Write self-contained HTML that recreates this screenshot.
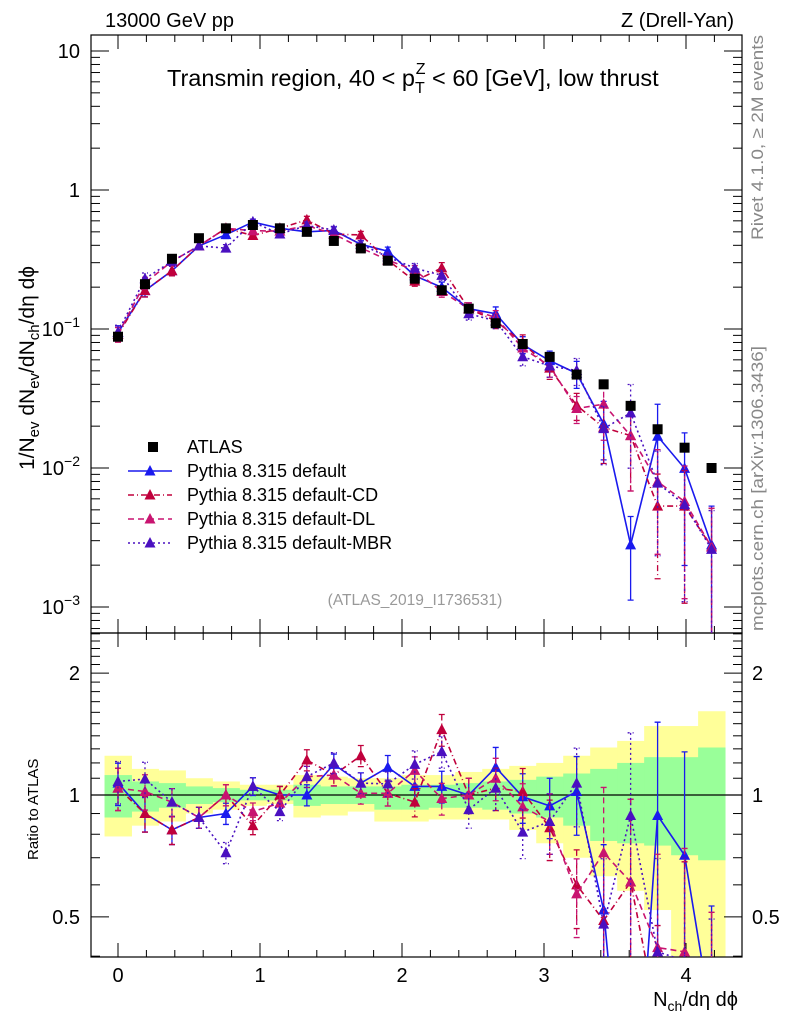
<!DOCTYPE html>
<html><head><meta charset="utf-8"><style>
html,body{margin:0;padding:0;background:#fff;width:786px;height:1024px;overflow:hidden;position:relative;}
svg{display:block;font-family:"Liberation Sans",sans-serif;}
</style></head><body>
<svg id="chart" width="786" height="1024" viewBox="0 0 786 1024" xmlns="http://www.w3.org/2000/svg" style="position:absolute;left:0;top:0"></svg>
<script>
const xCenters = [0,0.19,0.38,0.57,0.76,0.95,1.14,1.33,1.52,1.71,1.90,2.09,2.28,2.47,2.66,2.85,3.04,3.23,3.42,3.61,3.80,3.99,4.18];
const atlasValues = [0.088,0.21,0.32,0.45,0.53,0.56,0.53,0.50,0.43,0.38,0.31,0.23,0.19,0.14,0.11,0.078,0.063,0.047,0.040,0.028,0.019,0.014,0.010];
const ratioDefault = [1.07,0.90,0.82,0.88,0.90,1.05,1.00,1.00,1.19,1.07,1.17,1.05,1.05,1.00,1.17,0.99,0.94,1.02,0.52,0.10,0.89,0.71,0.28];
const ratioCD = [1.04,0.90,0.82,0.88,1.00,0.84,1.00,1.22,1.12,1.25,1.01,0.96,1.45,1.00,1.04,1.02,0.83,0.60,0.49,0.61,0.28,0.38,0.27];
const ratioDL = [1.04,1.02,0.96,0.88,1.00,0.91,0.955,1.11,1.12,1.01,1.01,1.15,0.98,1.00,1.10,0.935,0.86,0.57,0.72,0.61,0.42,0.41,0.27];
const ratioMBR = [1.08,1.095,0.96,0.88,0.72,1.05,0.91,1.11,1.20,1.07,1.065,1.19,1.28,0.92,1.04,0.81,0.86,1.07,0.48,0.89,0.41,0.39,0.26];
const relErrMC = [0.12,0.10,0.08,0.06,0.06,0.05,0.05,0.06,0.06,0.06,0.07,0.08,0.09,0.10,0.12,0.14,0.17,0.22,0.45,0.6,0.7,0.8,0.9];
const bandYellowUp = [1.25,1.16,1.15,1.10,1.08,1.06,1.06,1.12,1.11,1.10,1.10,1.12,1.12,1.14,1.16,1.18,1.20,1.25,1.31,1.36,1.48,1.48,1.61];
const bandYellowDn = [0.79,0.84,0.86,0.90,0.92,0.94,0.95,0.88,0.89,0.91,0.86,0.86,0.87,0.87,0.87,0.82,0.76,0.70,0.63,0.58,0.52,0.40,0.35];
const bandGreenUp = [1.12,1.08,1.07,1.05,1.04,1.03,1.03,1.06,1.05,1.05,1.05,1.06,1.06,1.07,1.08,1.09,1.11,1.13,1.16,1.20,1.24,1.24,1.31];
const bandGreenDn = [0.88,0.91,0.93,0.95,0.96,0.97,0.97,0.94,0.95,0.95,0.92,0.92,0.93,0.93,0.92,0.90,0.88,0.84,0.77,0.76,0.75,0.71,0.69];
const xTickLabels = ["0","1","2","3","4"];
const ratioTickLabels = ["0.5","1","2"];

const NS="http://www.w3.org/2000/svg";
const svg=document.getElementById('chart');
function mk(tag,attrs,parent){const e=document.createElementNS(NS,tag);for(const k in attrs)e.setAttribute(k,attrs[k]);(parent||svg).appendChild(e);return e;}
const L=91,R=742,T=35,MID=633,B=957;
const X=v=>118+v*142;
const Y=v=>190-Math.log10(v)*139;
const RY=v=>795-Math.log10(v)*405;
const BW=0.1895;
const clipT=mk('clipPath',{id:'ct'});let cr=mk('rect',{x:L,y:T,width:R-L,height:MID-T},clipT);
const clipB=mk('clipPath',{id:'cb'});cr=mk('rect',{x:L,y:MID,width:R-L,height:B-MID},clipB);

const gBand=mk('g',{'clip-path':'url(#cb)'});


xCenters.forEach((c,i)=>{
  let e=mk('rect',{x:X(c-BW/2),y:RY(bandYellowUp[i]),width:X(c+BW/2)-X(c-BW/2)+0.5,height:RY(bandYellowDn[i])-RY(bandYellowUp[i]),fill:'#ffff99'},gBand);
  
  
});
xCenters.forEach((c,i)=>{
  let e=mk('rect',{x:X(c-BW/2),y:RY(bandGreenUp[i]),width:X(c+BW/2)-X(c-BW/2)+0.5,height:RY(bandGreenDn[i])-RY(bandGreenUp[i]),fill:'#99ff99'},gBand);
  
  
});
let one=mk('line',{x1:L,x2:R,y1:RY(1),y2:RY(1),stroke:'#000','stroke-width':1.2});



let f1=mk('rect',{x:L,y:T,width:R-L,height:MID-T,fill:'none',stroke:'#000','stroke-width':1.2});


let f2=mk('rect',{x:L,y:MID,width:R-L,height:B-MID,fill:'none',stroke:'#000','stroke-width':1.2});



for(let k=-1;k<=22;k++){const v=k*0.2;const x=X(v);if(x<L||x>R)continue;const major=(k%5===0);const len=major?14:7;
  [T,MID].forEach(y0=>{let t=mk('line',{x1:x,x2:x,y1:y0,y2:y0+len,stroke:'#000'});});
  [MID,B].forEach(y0=>{let t=mk('line',{x1:x,x2:x,y1:y0,y2:y0-len,stroke:'#000'});});
}
xTickLabels.forEach((s,i)=>{let t=mk('text',{x:X(+s),y:982,'font-size':20,'text-anchor':'middle'});t.textContent=s;
  
  });

for(let d=-4;d<=1;d++){for(let m=1;m<=9;m++){const v=m*Math.pow(10,d);const y=Y(v);if(y<T||y>MID)continue;const len=m===1?18:9;
  let t=mk('line',{x1:L,x2:L+len,y1:y,y2:y,stroke:'#000'});
  let t2=mk('line',{x1:R,x2:R-len,y1:y,y2:y,stroke:'#000'});}}
function ylab(y,html){const t=mk('text',{x:80,y:y+7,'font-size':20,'text-anchor':'end'});t.innerHTML=html;return t;}
let yl;
yl=ylab(Y(10),'10');
yl=ylab(Y(1),'1');
yl=ylab(Y(0.1),'10<tspan dy="-9" font-size="14">−1</tspan>');
yl=ylab(Y(0.01),'10<tspan dy="-9" font-size="14">−2</tspan>');
yl=ylab(Y(0.001),'10<tspan dy="-9" font-size="14">−3</tspan>');

const rt=[0.4,0.5,0.6,0.7,0.8,0.9,1,1.1,1.2,1.3,1.4,1.5,1.6,1.7,1.8,1.9,2,2.1,2.2,2.3,2.4,2.5];
rt.forEach(v=>{const y=RY(v);if(y<MID||y>B)return;const major=(v===0.5||v===1||v===2);const len=major?18:9;
  let t=mk('line',{x1:L,x2:L+len,y1:y,y2:y,stroke:'#000'});
  let t2=mk('line',{x1:R,x2:R-len,y1:y,y2:y,stroke:'#000'});});
ratioTickLabels.forEach(s=>{const y=RY(+s)+7;
  let a=mk('text',{x:80,y:y,'font-size':20,'text-anchor':'end'});a.textContent=s;
  let b=mk('text',{x:752,y:y,'font-size':20,'text-anchor':'start'});b.textContent=s;});

const series=[
 {name:'default',ratio:ratioDefault,color:'#1a1aee',dash:'',label:'Pythia 8.315 default'},
 {name:'default-cd',ratio:ratioCD,color:'#c0003c',dash:'6,3,1,3',label:'Pythia 8.315 default-CD'},
 {name:'default-dl',ratio:ratioDL,color:'#c81470',dash:'6,4',label:'Pythia 8.315 default-DL'},
 {name:'default-mbr',ratio:ratioMBR,color:'#4a10c0',dash:'2,3',label:'Pythia 8.315 default-MBR'}];
function tri(g,x,y,c){return mk('polygon',{points:`${x},${y-6} ${x-5.5},${y+4.5} ${x+5.5},${y+4.5}`,fill:c},g);}
series.forEach(s=>{
  const vals=atlasValues.map((a,i)=>a*s.ratio[i]);
  [['top','url(#ct)',vals,Y],['ratio','url(#cb)',s.ratio,RY]].forEach(([pan,clip,arr,fy])=>{
    const g=mk('g',{'clip-path':clip});
    
    
    const pts=xCenters.map((c,i)=>X(c)+','+fy(arr[i])).join(' ');
    const pl=mk('polyline',{points:pts,fill:'none',stroke:s.color,'stroke-width':1.6,'stroke-dasharray':s.dash},g);
    
    
    xCenters.forEach((c,i)=>{const v=arr[i],e=relErrMC[i];const up=fy(v*(1+e)),dn=fy(Math.max(v*(1-e),1e-6));
      const eb=mk('path',{d:`M${X(c)},${up}V${dn}M${X(c)-3},${up}h6M${X(c)-3},${dn}h6`,stroke:s.color,'stroke-width':1.3,fill:'none','stroke-dasharray':s.dash},g);
      
      
      const m=tri(g,X(c),fy(v),s.color);
      
      });
  });
});
const gA=mk('g',{'clip-path':'url(#ct)'});


xCenters.forEach((c,i)=>{const r=mk('rect',{x:X(c)-5,y:Y(atlasValues[i])-5,width:10,height:10,fill:'#000'},gA);
  
  });

const lg=mk('g',{});


let ly=447;
let la=mk('rect',{x:148,y:ly-5,width:10,height:10,fill:'#000'},lg);


let lt=mk('text',{x:187,y:ly+6,'font-size':18},lg);lt.textContent='ATLAS';


series.forEach((s,k)=>{const y=ly+24*(k+1);
  const l=mk('line',{x1:128,x2:172,y1:y,y2:y,stroke:s.color,'stroke-width':1.6,'stroke-dasharray':s.dash},lg);
  
  
  const m=tri(lg,150,y,s.color);
  
  
  const t=mk('text',{x:187,y:y+6,'font-size':18},lg);t.textContent=s.label;
  
  });
</script>
<svg style="position:absolute;left:0;top:0" width="786" height="1024">
<g font-family="Liberation Sans, sans-serif">
<text x="105" y="27" font-size="20">13000 GeV pp</text>
<text x="734" y="27" font-size="20" text-anchor="end">Z (Drell-Yan)</text>
<text x="167" y="86" font-size="23.5">Transmin region, 40 &lt; p<tspan font-size="16" dy="7">T</tspan><tspan font-size="16" dx="-9" dy="-19">Z</tspan><tspan dy="12"> &lt; 60 [GeV], low thrust</tspan></text>
<text x="415" y="605" font-size="15.5" fill="#999" text-anchor="middle">(ATLAS_2019_I1736531)</text>
<text transform="translate(763,240) rotate(-90)" font-size="17" fill="#888" textLength="205" lengthAdjust="spacingAndGlyphs">Rivet 4.1.0, ≥ 2M events</text>
<text transform="translate(763,631) rotate(-90)" font-size="17" fill="#888" textLength="285" lengthAdjust="spacingAndGlyphs">mcplots.cern.ch [arXiv:1306.3436]</text>
<text transform="translate(34,470) rotate(-90)" font-size="21">1/N<tspan font-size="15" dy="5">ev</tspan><tspan dy="-5"> dN</tspan><tspan font-size="15" dy="5">ev</tspan><tspan dy="-5">/dN</tspan><tspan font-size="15" dy="5">ch</tspan><tspan dy="-5">/dη dϕ</tspan></text>
<text transform="translate(38,860) rotate(-90)" font-size="15">Ratio to ATLAS</text>
<text x="738" y="1006" font-size="20" text-anchor="end">N<tspan font-size="14" dy="5">ch</tspan><tspan dy="-5">/dη dϕ</tspan></text>
</g></svg>
</body></html>
